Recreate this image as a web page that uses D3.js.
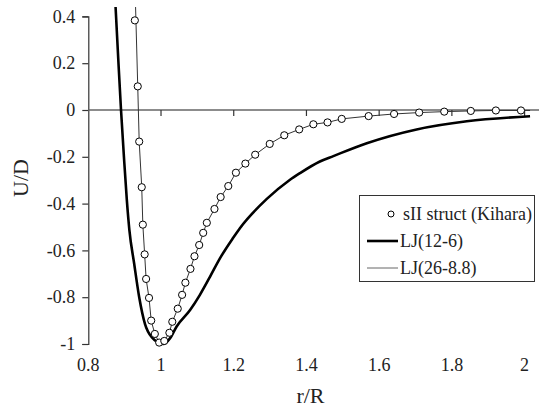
<!DOCTYPE html>
<html>
<head>
<meta charset="utf-8">
<script src="https://cdn.jsdelivr.net/npm/d3@7"></script>
<style>
  body { margin: 0; background: #fff; }
  text { font-family: "Liberation Serif", "Times New Roman", serif; fill: #222; }
</style>
</head>
<body>
<svg id="chart" width="539" height="410"></svg>
<script>
const width = 539;
const height = 410;

// Kihara potential, sII structure (markers)
const kiharaR = [0.928, 0.936, 0.940, 0.947, 0.950, 0.955, 0.959, 0.967, 0.973, 0.983, 0.995,
  1.009, 1.023, 1.031, 1.046, 1.058, 1.067, 1.081, 1.092, 1.105, 1.116, 1.126, 1.147, 1.164,
  1.185, 1.206, 1.232, 1.259, 1.299, 1.339, 1.380, 1.419, 1.458, 1.497, 1.571, 1.641, 1.710,
  1.779, 1.852, 1.921, 1.990];
const kiharaU = [0.383, 0.101, -0.135, -0.330, -0.490, -0.617, -0.722, -0.803, -0.900, -0.957, -0.994,
  -0.987, -0.952, -0.905, -0.849, -0.790, -0.738, -0.679, -0.625, -0.577, -0.525, -0.482, -0.423, -0.372,
  -0.325, -0.268, -0.229, -0.191, -0.145, -0.108, -0.083, -0.061, -0.053, -0.038, -0.026, -0.017, -0.011,
  -0.007, -0.004, -0.002, -0.002];

// LJ(12-6)
const lj12R = [0.875, 0.883, 0.890, 0.898, 0.906, 0.913, 0.926, 0.940, 0.956, 0.975, 1.006, 1.025,
  1.043, 1.080, 1.107, 1.135, 1.162, 1.199, 1.217, 1.291, 1.353, 1.382, 1.437, 1.474, 1.566,
  1.703, 1.841, 2.015];
const lj12U = [0.44, 0.20, 0.0, -0.20, -0.385, -0.513, -0.655, -0.80, -0.915, -0.972, -1.0, -0.975,
  -0.925, -0.855, -0.79, -0.712, -0.634, -0.545, -0.505, -0.38, -0.30, -0.27, -0.22, -0.197, -0.142,
  -0.083, -0.048, -0.027];

// LJ(26-8.8)
const lj26R = [0.930, 0.936, 0.940, 0.947, 0.950, 0.955, 0.959, 0.967, 0.973, 0.983, 0.995,
  1.009, 1.023, 1.031, 1.046, 1.058, 1.067, 1.081, 1.092, 1.105, 1.116, 1.126, 1.147, 1.164,
  1.185, 1.206, 1.232, 1.259, 1.299, 1.339, 1.380, 1.419, 1.458, 1.497, 1.571, 1.641, 1.710,
  1.779, 1.852, 1.921, 1.990, 2.015];
const lj26U = [0.44, 0.101, -0.135, -0.330, -0.490, -0.617, -0.722, -0.803, -0.900, -0.957, -0.994,
  -0.987, -0.952, -0.905, -0.849, -0.790, -0.738, -0.679, -0.625, -0.577, -0.525, -0.482, -0.423, -0.372,
  -0.325, -0.268, -0.229, -0.191, -0.145, -0.108, -0.083, -0.061, -0.053, -0.038, -0.026, -0.017, -0.011,
  -0.007, -0.004, -0.002, -0.002, -0.002];

const xTicks = [0.8, 1, 1.2, 1.4, 1.6, 1.8, 2];
const yTicks = [0.4, 0.2, 0, -0.2, -0.4, -0.6, -0.8, -1];
const legendNames = ["sII struct (Kihara)", "LJ(12-6)", "LJ(26-8.8)"];

const x = d3.scaleLinear().domain([0.8, 2]).range([88.3, 524.6]);
const y = d3.scaleLinear().domain([0.4, -1]).range([16.4, 344]);

// plain hyphen for negatives, like the original
const fmt = d => String(d);

const svg = d3.select("#chart");

// clip for the curves (top of plot area)
svg.append("clipPath").attr("id", "plotClip")
  .append("rect")
  .attr("x", x(0.8)).attr("y", y(0.44))
  .attr("width", width - x(0.8)).attr("height", y(-1.1) - y(0.44));

// === AXES ===
// y axis
const yAxis = svg.append("g")
  .attr("transform", `translate(${x(0.8)},0)`)
  .call(d3.axisLeft(y).tickValues(yTicks).tickSize(6).tickPadding(7).tickFormat(fmt));
yAxis.attr("font-family", null);
yAxis.select(".domain").attr("stroke", "#333").attr("stroke-width", 1.2);
yAxis.selectAll(".tick line").attr("stroke", "#333").attr("stroke-width", 1.2);
yAxis.selectAll("text").attr("font-size", 18).attr("fill", "#222");

// zero line with downward ticks
svg.append("line")
  .attr("x1", x(0.8)).attr("x2", width)
  .attr("y1", y(0)).attr("y2", y(0))
  .attr("stroke", "#666").attr("stroke-width", 1.3);

svg.selectAll(".xtick")
  .data(xTicks.slice(1))
  .join("line")
  .attr("class", "xtick")
  .attr("x1", d => x(d)).attr("x2", d => x(d))
  .attr("y1", y(0)).attr("y2", y(0) + 6)
  .attr("stroke", "#333").attr("stroke-width", 1.2);

// x tick labels at bottom
svg.selectAll(".xlabel")
  .data(xTicks)
  .join("text")
  .attr("class", "xlabel")
  .attr("x", d => x(d))
  .attr("y", 371)
  .attr("text-anchor", "middle")
  .attr("font-size", 18)
  .text(fmt);

// axis titles
svg.append("text")
  .attr("x", x(1.4) + 4)
  .attr("y", 403)
  .attr("text-anchor", "middle")
  .attr("font-size", 22)
  .text("r/R");

svg.append("text")
  .attr("transform", `translate(28,178) rotate(-90)`)
  .attr("text-anchor", "middle")
  .attr("font-size", 22)
  .text("U/D");

// === CURVES ===
const plot = svg.append("g").attr("clip-path", "url(#plotClip)");
const line = d3.line().x(d => x(d[0])).y(d => y(d[1]));

plot.append("path")
  .datum(d3.zip(lj12R, lj12U))
  .attr("d", line.curve(d3.curveMonotoneX))
  .attr("fill", "none")
  .attr("stroke", "#000")
  .attr("stroke-width", 2.6);

plot.append("path")
  .datum(d3.zip(lj26R, lj26U))
  .attr("d", line.curve(d3.curveLinear))
  .attr("fill", "none")
  .attr("stroke", "#333")
  .attr("stroke-width", 1);

plot.selectAll(".kihara")
  .data(d3.zip(kiharaR, kiharaU))
  .join("circle")
  .attr("class", "kihara")
  .attr("cx", d => x(d[0]))
  .attr("cy", d => y(d[1]))
  .attr("r", 3.6)
  .attr("fill", "#fff")
  .attr("stroke", "#000")
  .attr("stroke-width", 1);

// === LEGEND ===
const legend = svg.append("g");
legend.append("rect")
  .attr("x", 359.5).attr("y", 195.5)
  .attr("width", 175).attr("height", 86)
  .attr("fill", "#fff")
  .attr("stroke", "#333").attr("stroke-width", 1);

const rows = legend.selectAll(".row")
  .data(legendNames)
  .join("g")
  .attr("class", "row")
  .attr("transform", (d, i) => `translate(0,${220 + i * 27})`);

rows.append("text")
  .attr("x", (d, i) => i === 0 ? 403 : 400)
  .attr("y", 0)
  .attr("font-size", 18)
  .text(d => d);

legend.append("circle")
  .attr("cx", 391).attr("cy", 214).attr("r", 3)
  .attr("fill", "#fff").attr("stroke", "#000").attr("stroke-width", 1);
legend.append("line")
  .attr("x1", 367).attr("x2", 398).attr("y1", 241).attr("y2", 241)
  .attr("stroke", "#000").attr("stroke-width", 2.6);
legend.append("line")
  .attr("x1", 367).attr("x2", 398).attr("y1", 268).attr("y2", 268)
  .attr("stroke", "#666").attr("stroke-width", 1);
</script>
</body>
</html>
